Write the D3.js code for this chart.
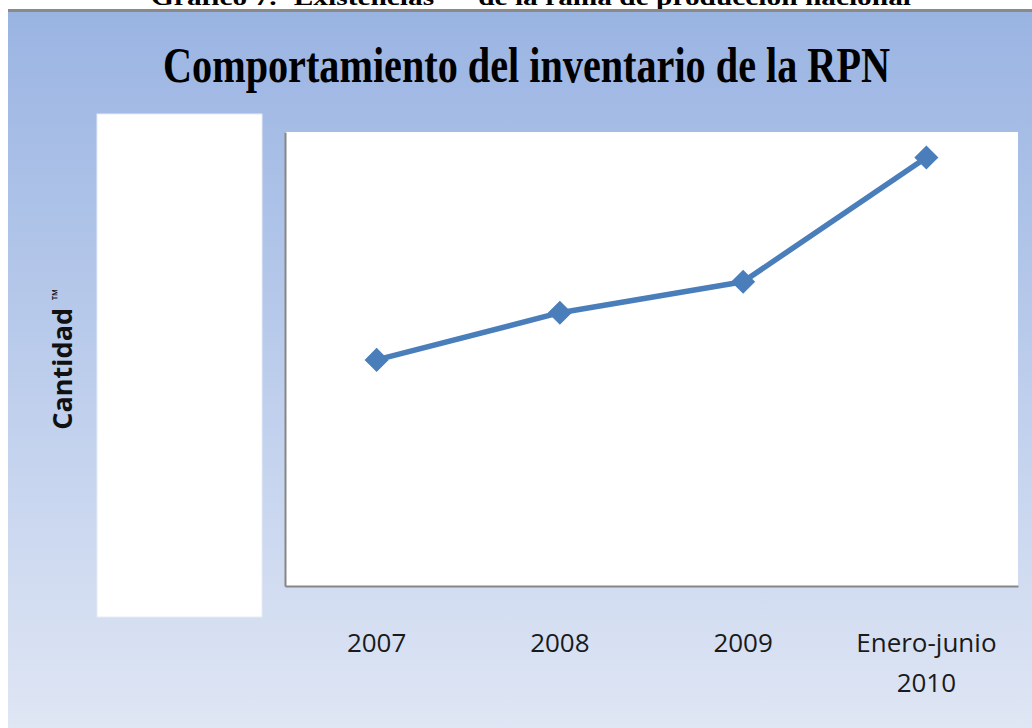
<!DOCTYPE html>
<html>
<head>
<meta charset="utf-8">
<script src="https://cdn.jsdelivr.net/npm/d3@7"></script>
<style>
  html, body { margin: 0; padding: 0; background: #ffffff; }
  svg { display: block; }
</style>
</head>
<body>
<svg id="chart" width="1032" height="728"></svg>
<script>
// ---- data ----
const categories = ["2007", "2008", "2009", "Enero-junio 2010"];
const categoryLines = [["2007"], ["2008"], ["2009"], ["Enero-junio", "2010"]];
const inventario = [498, 602, 670, 944];
const yDomain = [0, 1000];
const chartTitle = "Comportamiento del inventario de la RPN";
const captionText = "Gráfico 7.- Existencias ™ de la rama de producción nacional";
const yLabel = "Cantidad";
const yLabelUnit = "™";

// ---- layout ----
const W = 1032, H = 728;
const plot = { left: 285, right: 1018, top: 132, bottom: 586 };

const svg = d3.select("#chart");
const defs = svg.append("defs");

const grad = defs.append("linearGradient")
  .attr("id", "bg").attr("x1", 0).attr("y1", 0).attr("x2", 0).attr("y2", 1);
grad.append("stop").attr("offset", "0%").attr("stop-color", "#9ab4e2");
grad.append("stop").attr("offset", "50%").attr("stop-color", "#bccdec");
grad.append("stop").attr("offset", "100%").attr("stop-color", "#dfe6f4");

// caption, cut off at top (as in the reference)
svg.append("text")
  .attr("x", 151).attr("y", 5)
  .attr("font-family", "Liberation Serif, serif")
  .attr("font-weight", "bold")
  .attr("font-size", 24)
  .attr("textLength", 760)
  .attr("lengthAdjust", "spacingAndGlyphs")
  .attr("fill", "#000")
  .text(captionText);

// background panel
svg.append("rect").attr("x", 8).attr("y", 12).attr("width", W - 8).attr("height", H - 12)
  .attr("fill", "url(#bg)");
svg.append("rect").attr("x", 8).attr("y", 9).attr("width", W - 8).attr("height", 3)
  .attr("fill", "#8a8a8a");

// title
svg.append("text")
  .attr("x", 163).attr("y", 82)
  .attr("font-family", "Liberation Serif, serif")
  .attr("font-weight", "bold")
  .attr("font-size", 51)
  .attr("textLength", 727)
  .attr("lengthAdjust", "spacingAndGlyphs")
  .attr("fill", "#000")
  .text(chartTitle);

// white box (covering the value axis)
svg.append("rect").attr("x", 97).attr("y", 114).attr("width", 165).attr("height", 503)
  .attr("fill", "#ffffff").attr("stroke", "#e6ecf7").attr("stroke-width", 1);

// plot area
svg.append("rect").attr("x", plot.left).attr("y", plot.top)
  .attr("width", plot.right - plot.left).attr("height", plot.bottom - plot.top)
  .attr("fill", "#ffffff");

// scales
const x = d3.scaleBand().domain(categories).range([plot.left, plot.right]);
const y = d3.scaleLinear().domain(yDomain).range([plot.bottom, plot.top]);

// axes
const xAxis = svg.append("g")
  .attr("transform", `translate(0,${plot.bottom})`)
  .call(d3.axisBottom(x).tickSize(0).tickSizeOuter(0).tickPadding(0));
xAxis.select(".domain").attr("stroke", "#868686").attr("stroke-width", 2);
xAxis.selectAll(".tick text").each(function(d, i) {
  const t = d3.select(this);
  t.text(null).attr("dy", null).attr("y", 0)
    .attr("font-family", "Open Sans, sans-serif")
    .attr("font-size", 26)
    .attr("fill", "#1a1a1a");
  categoryLines[i].forEach((line, j) => {
    t.append("tspan").attr("x", 0).attr("y", 66 + j * 40).text(line);
  });
});

const yAxis = svg.append("g")
  .attr("transform", `translate(${plot.left},0)`)
  .call(d3.axisLeft(y).tickValues([]).tickSizeOuter(0));
yAxis.select(".domain").attr("stroke", "#868686").attr("stroke-width", 2);

// y label
const yl = svg.append("text")
  .attr("transform", "translate(72,359) rotate(-90)")
  .attr("text-anchor", "middle")
  .attr("font-family", "Open Sans, sans-serif")
  .attr("font-weight", "bold")
  .attr("font-size", 27)
  .attr("fill", "#111");
yl.append("tspan").text(yLabel);
yl.append("tspan").attr("dx", 8).attr("dy", -9).attr("font-size", 15).text(yLabelUnit);

// line
const data = categories.map((c, i) => ({ c, v: inventario[i] }));
const line = d3.line().x(d => x(d.c) + x.bandwidth() / 2).y(d => y(d.v));
svg.append("path").datum(data)
  .attr("d", line)
  .attr("fill", "none")
  .attr("stroke", "#4a7ebb")
  .attr("stroke-width", 5.5)
  .attr("stroke-linejoin", "round");

// markers (diamonds)
svg.selectAll(".marker").data(data).join("path")
  .attr("class", "marker")
  .attr("d", d3.symbol().type(d3.symbolSquare).size(290))
  .attr("transform", d => `translate(${x(d.c) + x.bandwidth() / 2},${y(d.v)}) rotate(45)`)
  .attr("fill", "#4a7ebb");
</script>
</body>
</html>
